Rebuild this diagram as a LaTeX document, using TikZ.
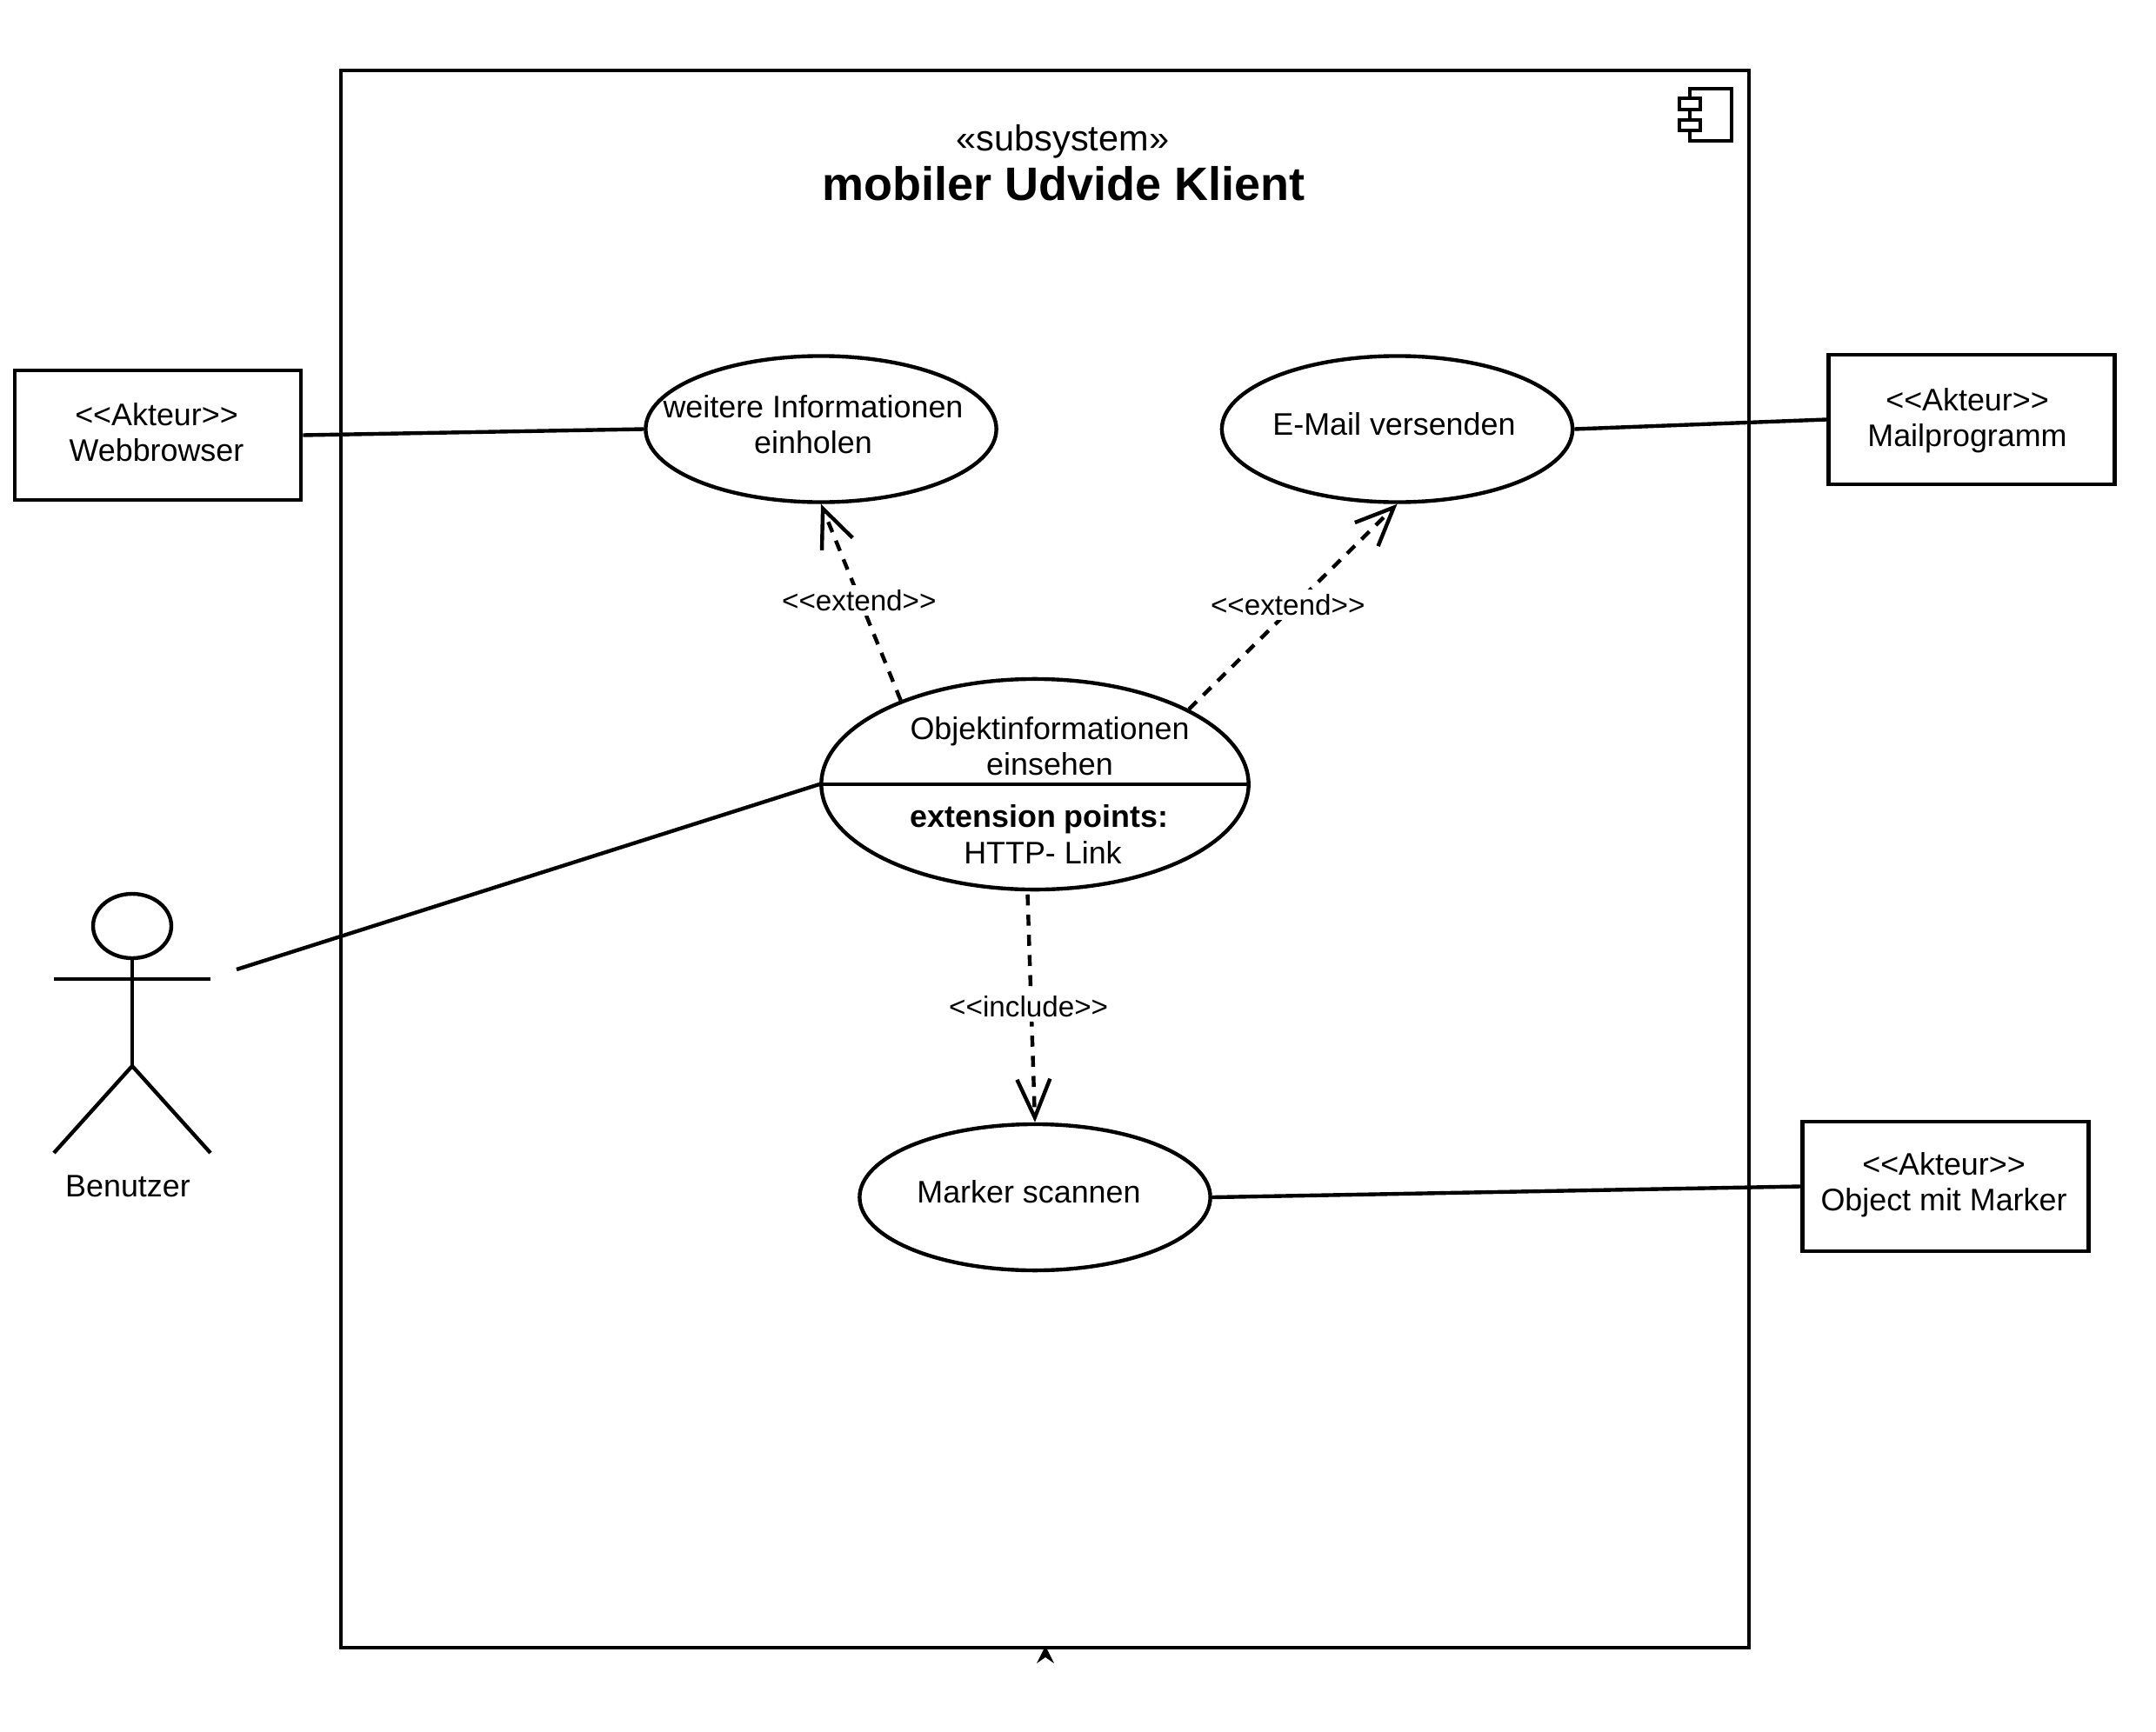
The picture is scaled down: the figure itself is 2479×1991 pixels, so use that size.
\documentclass[tikz,border=0pt]{standalone}
\usepackage{fontspec}
\usetikzlibrary{arrows.meta,shapes.geometric}
\newfontfamily\umlfont{Liberation Sans}
\tikzset{
  usecase/.style={draw, ellipse, inner sep=0pt, minimum width=4.03cm, minimum height=1.68cm},
  akteur/.style={draw, rectangle, inner sep=0pt, minimum width=3.29cm, minimum height=1.49cm},
  umltext/.style={inner sep=0pt, align=center, font=\umlfont\fontsize{10.2}{11.7}\selectfont},
  rellabel/.style={fill=white, inner sep=1.5pt, font=\umlfont\fontsize{9.45}{11}\selectfont},
  reldash/.style={dash pattern=on 3.6pt off 3pt, -{Straight Barb[length=0.44cm, width=0.38cm]}}
}
\begin{document}
\begin{tikzpicture}[x=0.01cm, y=-0.01cm, line width=1.25pt]
\useasboundingbox (0,0) rectangle (2479,1991);
% subsystem frame
\node[draw, rectangle, inner sep=0pt, minimum width=16.18cm, minimum height=18.13cm] (frame) at (1201.5,988) {};
\node[umltext, font=\umlfont\fontsize{11.8}{14}\selectfont] (stereotype) at (1222,163) {«subsystem»};
\node[umltext, font=\umlfont\bfseries\fontsize{15.35}{18}\selectfont] (title) at (1223,211) {mobiler Udvide Klient};
% component icon
\draw (1943,113) -- (1943,102) -- (1991,102) -- (1991,162) -- (1943,162) -- (1943,150);
\draw (1943,126) -- (1943,138);
\draw (1931,113) rectangle (1955,126);
\draw (1931,138) rectangle (1955,150);
% little arrowhead under the frame
\fill (1202,1893) -- (1212,1913) -- (1202,1906) -- (1192,1913) -- cycle;
% use cases
\node[usecase] (weitere) at (944,493.5) {};
\node[usecase] (email) at (1606.5,493.5) {};
\node[usecase, minimum width=4.91cm, minimum height=2.42cm] (objekt) at (1190,902) {};
\node[usecase] (marker) at (1190,1377) {};
\draw (objekt.west) -- (objekt.east);
\node[umltext] (weiteretext) at (935,488) {weitere Informationen\\einholen};
\node[umltext] (emailtext) at (1603,488) {E-Mail versenden};
\node[umltext] (objekttext) at (1207,858) {Objektinformationen\\einsehen};
\node[umltext] (pointstext) at (1195,942) {\textbf{extension points:}};
\node[umltext] (linktext) at (1199,980) {HTTP- Link};
\node[umltext] (markertext) at (1183,1371) {Marker scannen};
% external actors
\node[akteur] (webbrowser) at (181.5,500.5) {};
\node[akteur] (mailprogramm) at (2267,482.5) {};
\node[akteur] (objectbox) at (2237,1364.5) {};
\node[umltext] (webtext) at (180,497) {<<Akteur>>\\Webbrowser};
\node[umltext] (mailtext) at (2262,484) {<<Akteur>>\\Mailprogramm};
\node[umltext] (objecttext) at (2235,1363) {<<Akteur>>\\Object mit Marker};
% stick figure
\draw (152,1065) ellipse (45 and 37);
\draw (152,1102) -- (152,1226);
\draw (62,1126) -- (242,1126);
\draw (62,1326) -- (152,1226) -- (242,1326);
\node[umltext] (benutzer) at (147,1364) {Benutzer};
\coordinate (benutzerhand) at (272,1115);
% associations
\draw (webbrowser.east) -- (weitere.west);
\draw (email.east) -- (mailprogramm.west);
\draw (marker.east) -- (objectbox.west);
\draw (benutzerhand) -- (objekt.west);
% dependencies
\draw[reldash] (objekt.148) -- node[rellabel, xshift=-0.02cm, yshift=0.02cm] {<<extend>>} (weitere.south);
\draw[reldash] (objekt.26) -- node[rellabel, xshift=-0.06cm, yshift=0.02cm] {<<extend>>} (email.south);
\draw[reldash, shorten <=1pt] (objekt.266) -- node[rellabel, xshift=-0.03cm] {<<include>>} (marker.north);
\end{tikzpicture}
\end{document}
